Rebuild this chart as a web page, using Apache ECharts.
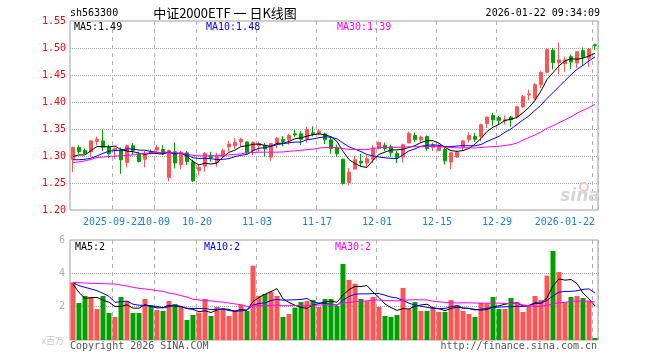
<!DOCTYPE html>
<html><head><meta charset="utf-8">
<script src="https://cdn.jsdelivr.net/npm/echarts@6/dist/echarts.min.js"></script>
<style>html,body{margin:0;padding:0;background:#fff}#c{width:660px;height:360px}</style>
</head><body><div id="c"></div>
<script>
const dates = [
'2025-09-11','2025-09-12','2025-09-15','2025-09-16','2025-09-17','2025-09-18','2025-09-19','2025-09-22','2025-09-23','2025-09-24','2025-09-25','2025-09-26','2025-09-29','2025-09-30',
'2025-10-09','2025-10-10','2025-10-13','2025-10-14','2025-10-15','2025-10-16','2025-10-17','2025-10-20','2025-10-21','2025-10-22','2025-10-23','2025-10-24','2025-10-27','2025-10-28','2025-10-29','2025-10-30','2025-10-31',
'2025-11-03','2025-11-04','2025-11-05','2025-11-06','2025-11-07','2025-11-10','2025-11-11','2025-11-12','2025-11-13','2025-11-14','2025-11-17','2025-11-18','2025-11-19','2025-11-20','2025-11-21','2025-11-24','2025-11-25','2025-11-26','2025-11-27','2025-11-28',
'2025-12-01','2025-12-02','2025-12-03','2025-12-04','2025-12-05','2025-12-08','2025-12-09','2025-12-10','2025-12-11','2025-12-12','2025-12-15','2025-12-16','2025-12-17','2025-12-18','2025-12-19','2025-12-22','2025-12-23','2025-12-24','2025-12-25','2025-12-26','2025-12-29','2025-12-30','2025-12-31',
'2026-01-05','2026-01-06','2026-01-07','2026-01-08','2026-01-09','2026-01-12','2026-01-13','2026-01-14','2026-01-15','2026-01-16','2026-01-19','2026-01-20','2026-01-21','2026-01-22'];

const tickDates  = ['2025-09-22','2025-10-09','2025-10-20','2025-11-03','2025-11-17','2025-12-01','2025-12-15','2025-12-29','2026-01-22'];
const tickLabels = ['2025-09-22','10-09','10-20','11-03','11-17','12-01','12-15','12-29','2026-01-22'];

const opens = [1.294,1.316,1.310,1.308,1.327,1.328,1.316,1.310,1.311,1.288,
1.319,1.303,1.294,1.308,1.311,1.312,1.260,1.308,1.284,1.306,
1.289,1.273,1.281,1.301,1.288,1.299,1.317,1.319,1.326,1.326,
1.310,1.319,1.320,1.298,1.324,1.331,1.330,1.341,1.341,1.331,
1.343,1.342,1.341,1.330,1.315,1.294,1.251,1.276,1.290,1.287,
1.294,1.314,1.320,1.317,1.305,1.298,1.324,1.338,1.330,1.336,
1.316,1.310,1.312,1.289,1.298,1.317,1.330,1.336,1.336,1.360,
1.375,1.371,1.365,1.372,1.373,1.391,1.413,1.407,1.432,1.455,
1.496,1.473,1.471,1.484,1.472,1.495,1.481,1.506];
const closes = [1.316,1.308,1.305,1.328,1.331,1.316,1.304,1.314,1.293,1.319,
1.310,1.290,1.302,1.305,1.316,1.305,1.310,1.287,1.307,1.290,
1.254,1.279,1.305,1.297,1.300,1.310,1.322,1.325,1.331,1.306,
1.325,1.323,1.313,1.323,1.333,1.327,1.338,1.339,1.331,1.349,
1.340,1.346,1.330,1.314,1.304,1.249,1.270,1.293,1.287,1.295,
1.315,1.325,1.314,1.306,1.297,1.321,1.342,1.330,1.335,1.314,
1.321,1.318,1.291,1.306,1.307,1.328,1.338,1.331,1.358,1.372,
1.367,1.366,1.367,1.367,1.391,1.410,1.415,1.432,1.455,1.497,
1.473,1.478,1.478,1.474,1.493,1.483,1.498,1.504];
const lows = [1.270,1.304,1.303,1.299,1.320,1.309,1.296,1.295,1.267,1.279,
1.302,1.288,1.279,1.303,1.307,1.302,1.253,1.277,1.275,1.283,
1.252,1.264,1.271,1.289,1.280,1.296,1.308,1.313,1.318,1.302,
1.302,1.308,1.299,1.291,1.314,1.318,1.321,1.335,1.320,1.325,
1.336,1.338,1.322,1.304,1.298,1.247,1.246,1.275,1.281,1.278,
1.287,1.312,1.309,1.298,1.287,1.288,1.324,1.326,1.324,1.310,
1.309,1.309,1.284,1.276,1.297,1.309,1.325,1.326,1.327,1.352,
1.356,1.357,1.358,1.354,1.369,1.389,1.403,1.404,1.426,1.453,
1.460,1.452,1.456,1.461,1.463,1.467,1.465,1.496];
const highs = [1.317,1.320,1.314,1.329,1.336,1.349,1.321,1.316,1.316,1.321,
1.324,1.308,1.309,1.312,1.320,1.320,1.312,1.325,1.310,1.309,
1.293,1.284,1.307,1.308,1.306,1.313,1.328,1.333,1.334,1.327,
1.327,1.326,1.324,1.324,1.335,1.337,1.341,1.349,1.346,1.354,
1.355,1.350,1.343,1.336,1.321,1.295,1.278,1.299,1.304,1.302,
1.320,1.327,1.325,1.321,1.309,1.323,1.345,1.343,1.338,1.338,
1.325,1.321,1.316,1.308,1.310,1.330,1.344,1.343,1.360,1.373,
1.380,1.374,1.375,1.374,1.393,1.413,1.423,1.435,1.457,1.500,
1.500,1.510,1.484,1.488,1.494,1.501,1.500,1.508];
// volume, millions
const volumes = [3.46,2.22,2.64,2.58,1.86,2.64,1.62,1.38,2.58,2.34,
1.62,1.62,2.46,2.10,1.80,1.74,2.34,2.16,1.98,1.20,
1.50,1.64,2.46,1.44,1.98,1.86,1.44,1.80,2.10,1.74,
4.46,2.66,2.76,2.90,2.64,1.38,1.56,1.94,2.28,2.34,
2.40,1.98,2.46,2.46,2.04,4.56,3.60,3.38,2.46,2.34,
2.58,1.98,1.44,1.38,1.50,3.12,1.86,2.28,1.74,1.74,
1.98,1.68,1.68,2.40,2.10,1.74,1.56,1.38,2.22,2.22,
2.58,1.86,1.86,2.52,2.28,1.68,2.04,2.64,2.40,3.86,
5.34,4.08,2.28,2.58,2.64,2.52,2.34,0.12];

const priceMa5Head  = [1.299,1.302,1.302,1.310];
const priceMa10Head = [1.293,1.293,1.294,1.296,1.300,1.305,1.309,1.310,1.311];
const priceMa30Head = [1.288,1.289,1.291,1.294,1.297,1.298,1.299,1.300,1.3005,1.301,
1.302,1.304,1.305,1.306,1.306,1.307,1.307,1.306,1.305,1.304,
1.301,1.3005,1.300,1.3005,1.3005,1.301,1.302,1.303,1.304];
const volMa5Head  = [3.35,2.85,2.50,2.54];
const volMa10Head = [3.44,3.26,3.16,3.06,2.96,2.80,2.62,2.26,2.30];
const volMa30Head = [3.46,3.44,3.42,3.40,3.40,3.38,3.37,3.36,3.30,3.24,
3.16,3.10,3.06,3.02,2.96,2.92,2.82,2.76,2.66,2.58,
2.44,2.40,2.37,2.35,2.30,2.27,2.22,2.16,2.12];

const priceLegend = ['MA5:1.49','MA10:1.48','MA30:1.39'];
const volLegend = ['MA5:2','MA10:2','MA30:2'];
const headerCode = 'sh563300';
const headerTitle = '中证2000ETF 一 日K线图';
const headerTime = '2026-01-22 09:34:09';

function movingAvg(vals, n, head) {
  return vals.map((v, i) => {
    if (i < n - 1) return head[i];
    let s = 0;
    for (let k = i - n + 1; k <= i; k++) s += vals[k];
    return +(s / n).toFixed(4);
  });
}

const RED = '#ff5555', GREEN = '#00a000';
const MONO = '"DejaVu Sans Mono", "Liberation Mono", monospace';
const ohlc = dates.map((d, i) => [opens[i], closes[i], lows[i], highs[i]]);
const volData = volumes.map((v, i) => ({ value: v, itemStyle: { color: closes[i] >= opens[i] ? RED : GREEN } }));
const tickIdx = tickDates.map(d => dates.indexOf(d));
const isTick = (i) => tickIdx.indexOf(i) >= 0;

const chart = echarts.init(document.getElementById('c'), null, { renderer: 'canvas' });
const dashed = { show: true, interval: (i) => isTick(i), lineStyle: { color: '#b0b0b0', width: 1, type: [4, 4] } };
const dotted = { show: true, showMinLine: false, showMaxLine: false, lineStyle: { color: '#a8a8a8', width: 1, type: [1, 1] } };
const maLine = (name, data, color, xi) => ({
  name, type: 'line', data, xAxisIndex: xi, yAxisIndex: xi, showSymbol: false, symbol: 'none',
  lineStyle: { color, width: 1 }, z: 5, silent: true
});
const txt = (text, x, y, fill, align, font) => ({
  type: 'text', x, y, silent: true,
  style: { text, fill, font: font || ('10px ' + MONO), textAlign: align || 'left', align: align || 'left', textVerticalAlign: 'middle', verticalAlign: 'middle' }
});

chart.setOption({
  animation: false,
  backgroundColor: '#fff',
  grid: [
    { left: 70, top: 21, width: 528, height: 189, show: true, borderColor: '#a0a0a0', borderWidth: 1, backgroundColor: 'transparent' },
    { left: 70, top: 240, width: 528, height: 100, show: true, borderColor: '#a0a0a0', borderWidth: 1, backgroundColor: 'transparent' }
  ],
  xAxis: [
    { type: 'category', gridIndex: 0, data: dates, boundaryGap: true,
      axisLine: { show: false }, axisTick: { show: false }, splitLine: dashed, axisLabel: { show: false } },
    { type: 'category', gridIndex: 1, data: dates, boundaryGap: true,
      axisLine: { show: false }, axisTick: { show: false }, axisLabel: { show: false }, splitLine: dashed }
  ],
  yAxis: [
    { type: 'value', gridIndex: 0, min: 1.20, max: 1.55, interval: 0.05, scale: true,
      axisLine: { show: false }, axisTick: { show: false }, splitLine: dotted,
      axisLabel: { color: '#ff0000', fontFamily: MONO, fontSize: 10, margin: 4, formatter: (v) => v.toFixed(2) } },
    { type: 'value', gridIndex: 1, min: 0, max: 6, interval: 2,
      axisLine: { show: false }, axisTick: { show: false }, splitLine: dotted,
      axisLabel: { color: '#aaaaaa', fontFamily: MONO, fontSize: 10, margin: 5, formatter: (v) => v === 0 ? '' : String(v) } }
  ],
  series: [
    { type: 'candlestick', xAxisIndex: 0, yAxisIndex: 0, data: ohlc, barWidth: 4,
      itemStyle: { color: RED, color0: GREEN, borderColor: RED, borderColor0: GREEN, borderWidth: 1 }, z: 3 },
    maLine('MA5', movingAvg(closes, 5, priceMa5Head), '#000000', 0),
    maLine('MA10', movingAvg(closes, 10, priceMa10Head), '#0000ff', 0),
    maLine('MA30', movingAvg(closes, 30, priceMa30Head), '#ff00ff', 0),
    { type: 'bar', xAxisIndex: 1, yAxisIndex: 1, data: volData, barWidth: 5, z: 3 },
    maLine('VMA5', movingAvg(volumes, 5, volMa5Head), '#000000', 1),
    maLine('VMA10', movingAvg(volumes, 10, volMa10Head), '#0000ff', 1),
    maLine('VMA30', movingAvg(volumes, 30, volMa30Head), '#ff00ff', 1)
  ]
});

// date labels placed at the axis positions of their categories
const labelY = 222;
const dateLabelEls = tickDates.map((d, k) => {
  const x = chart.convertToPixel({ xAxisIndex: 0 }, d);
  const last = k === tickDates.length - 1;
  return txt(tickLabels[k], last ? x : x - 2, labelY, '#1a82d2', last ? 'right' : 'center');
});

chart.setOption({
  graphic: [
    txt(headerCode, 70, 13, '#000'),
    txt(headerTitle, 225, 13, '#000', 'center', '13px "Noto Sans CJK SC", sans-serif'),
    txt(headerTime, 600, 13, '#000', 'right'),
    txt(priceLegend[0], 74, 27, '#000'),
    txt(priceLegend[1], 206, 27, '#0000ff'),
    txt(priceLegend[2], 337, 27, '#ff00ff'),
    txt(volLegend[0], 75, 247, '#000'),
    txt(volLegend[1], 204, 247, '#0000ff'),
    txt(volLegend[2], 335, 247, '#ff00ff'),
    txt('Copyright 2026 SINA.COM', 70, 346, '#555'),
    txt('http://finance.sina.com.cn', 597, 346, '#555', 'right'),
    txt('x百万', 64, 341, '#c8c8c8', 'right', '9px "Noto Sans CJK SC", sans-serif'),
    { type: 'circle', shape: { cx: 584, cy: 187, r: 4 }, silent: true, style: { fill: 'none', stroke: '#f0c0c0', lineWidth: 2 } },
    txt('sina', 580, 197, '#d6d6d6', 'center', 'italic bold 17px "DejaVu Sans", sans-serif')
  ].concat(dateLabelEls)
});
</script></body></html>
